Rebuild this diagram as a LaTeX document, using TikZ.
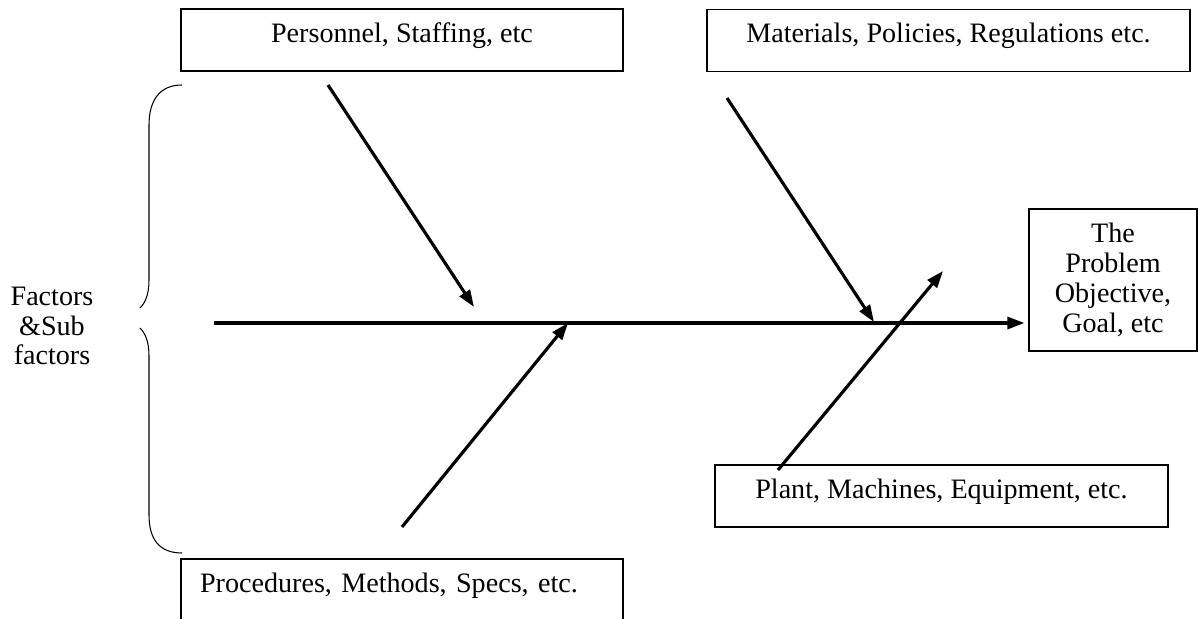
\documentclass[tikz,border=0pt]{standalone}
\usepackage{fontspec}
\setmainfont{Liberation Serif}
\usetikzlibrary{arrows.meta}

\begin{document}
\begin{tikzpicture}[x=0.02cm, y=-0.02cm, font=\fontsize{16}{17}\selectfont]
\tikzstyle{box}=[draw, line width=0.7pt, inner sep=0pt, minimum height=1.24cm, text height=0.66cm, text depth=0.58cm]
\tikzstyle{bone}=[line width=1.8pt, -{Triangle[length=3.4mm, width=2.4mm]}]
\useasboundingbox (0,0) rectangle (1198,619);

% cause boxes
\node[box, minimum width=8.84cm] (pers) at (402,40) {Personnel, Staffing, etc};
\node[box, minimum width=9.66cm] (mat) at (948.5,40.5) {Materials, Policies, Regulations etc.};
\node[box, minimum width=9.06cm] (plant) at (941.5,496) {Plant, Machines, Equipment, etc.};
\node[box, minimum width=8.84cm, text width=8.08cm, align=left] (proc) at (402,590) {Procedures, Methods, Specs, etc.};

% effect
\node[draw, line width=0.7pt, minimum width=3.36cm, minimum height=2.84cm, align=center] (prob) at (1113,280)
  {The\\Problem\\Objective,\\Goal, etc};
\node[align=center] (fact) at (52,326) {Factors\\\&Sub\\factors};

% spine and bones
\coordinate (tail) at (214,323);
\draw[bone] (tail) -- ([xshift=-0.08cm]tail -| prob.west);
\coordinate (persS) at (328,85);   \coordinate (persE) at (474,307);
\coordinate (procS) at (402,527);  \coordinate (procE) at (568,323);
\coordinate (matS) at (727,98);    \coordinate (matE) at (874,322);
\coordinate (plantS) at (778,470); \coordinate (plantE) at (943,271);
\draw[bone] (persS) -- (persE);
\draw[bone] (procS) -- (procE);
\draw[bone] (matS) -- (matE);
\draw[bone] (plantS) -- (plantE);

% brace
\draw[line width=0.6pt] (182,85) .. controls (160,85) and (149,100) .. (149,125) -- (149,280)
  .. controls (149,295) and (145,303) .. (140,308);
\draw[line width=0.6pt] (140,328) .. controls (145,333) and (149,341) .. (149,356) -- (149,515)
  .. controls (149,540) and (160,553) .. (182,553);
\end{tikzpicture}
\end{document}
